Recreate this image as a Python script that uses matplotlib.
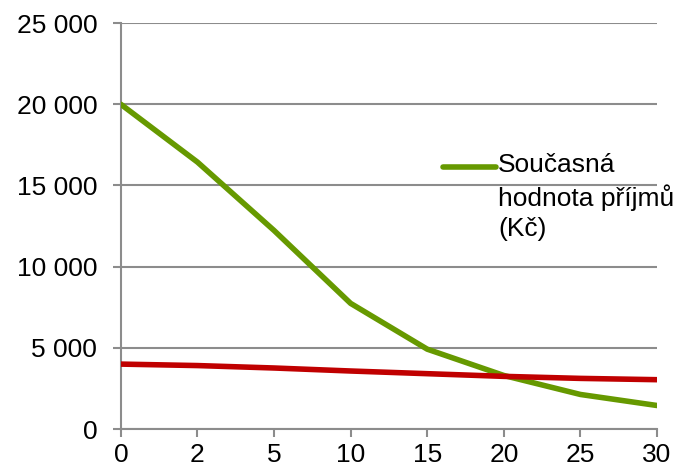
import matplotlib
matplotlib.use('Agg')
import matplotlib.pyplot as plt
import numpy as np

plt.rcParams['font.family'] = ['Liberation Sans', 'DejaVu Sans']

# data
roky = ['0', '2', '5', '10', '15', '20', '25', '30']
soucasna_hodnota = [20000, 16440, 12230, 7740, 4920, 3300, 2130, 1450]
prijem = [4000, 3910, 3760, 3575, 3410, 3245, 3120, 3040]

fig = plt.figure(figsize=(6.79, 4.72), dpi=100)
ax = fig.add_axes([0.178, 0.091, 0.7896, 0.86])

x = list(range(len(roky)))
ax.plot(x, soucasna_hodnota, color='#669900', lw=4, solid_capstyle='round',
        label='Současná\nhodnota příjmů\n(Kč)', zorder=3)
ax.plot(x, prijem, color='#C00000', lw=4, solid_capstyle='round', zorder=3)

ax.set_xlim(0, len(roky) - 1)
ax.set_ylim(0, 25000)
ax.set_xticks(x)
ax.set_xticklabels(roky)
ax.set_yticks(range(0, 25001, 5000))
ax.set_yticklabels([f'{v:,}'.replace(',', ' ') for v in range(0, 25001, 5000)])

ax.grid(axis='y', color='#8c8c8c', lw=1.5)
ax.set_axisbelow(True)
for s in ['top', 'right']:
    ax.spines[s].set_visible(False)
for s in ['left', 'bottom']:
    ax.spines[s].set_color('#8c8c8c')
    ax.spines[s].set_linewidth(1.5)
ax.tick_params(axis='both', colors='#8c8c8c', labelcolor='black', labelsize=19,
               length=6, width=1.5)
ax.tick_params(axis='x', pad=4)
ax.tick_params(axis='y', pad=11)

leg = ax.legend(loc='upper left', bbox_to_anchor=(0.581, 0.705), frameon=False,
                fontsize=19, handlelength=2.0, handletextpad=0.1,
                borderaxespad=0, labelspacing=0.3)
leg.get_texts()[0].set_linespacing(1.32)
# handle sits by the first line of the label, not in the middle
hl = leg.get_lines()[0]
hl.set_ydata(np.asarray(hl.get_ydata(), dtype=float) + 22)

fig.savefig('out.png', dpi=100)
